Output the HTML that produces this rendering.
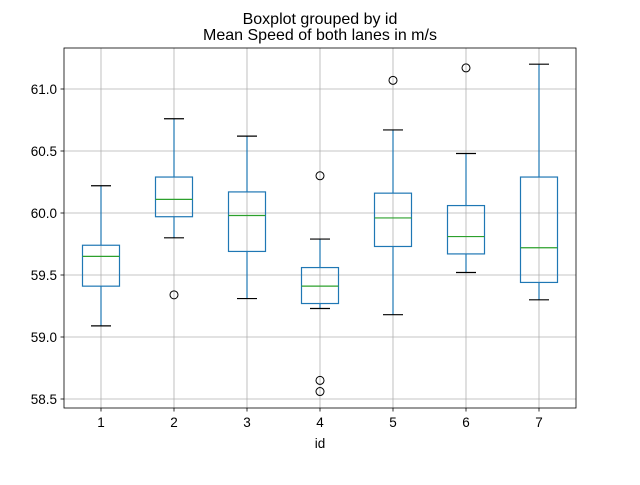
<!DOCTYPE html>
<html><head><meta charset="utf-8"><style>
body{margin:0;background:#fff;}
svg text{font-family:"Liberation Sans","DejaVu Sans",sans-serif;fill:#000;}
</style></head><body>
<svg id="chart" width="640" height="480" xmlns="http://www.w3.org/2000/svg">
<text x="320" y="24" font-size="16" text-anchor="middle">Boxplot grouped by id</text>
<text x="320" y="40" font-size="16" text-anchor="middle">Mean Speed of both lanes in m/s</text>
<g id="grid"></g><g id="marks"></g><g id="axes"></g>
<text x="320" y="448" font-size="13.5" text-anchor="middle">id</text>
</svg>
<script>
const categories=["1","2","3","4","5","6","7"];
const whiskerLow=[59.09,59.80,59.31,59.23,59.18,59.52,59.30];
const q1=[59.41,59.97,59.69,59.27,59.73,59.67,59.44];
const median=[59.65,60.11,59.98,59.41,59.96,59.81,59.72];
const q3=[59.74,60.29,60.17,59.56,60.16,60.06,60.29];
const whiskerHigh=[60.22,60.76,60.62,59.79,60.67,60.48,61.20];
const outliers=[[],[59.34],[],[60.30,58.65,58.56],[61.07],[61.17],[]];
const yTicks=[58.5,59.0,59.5,60.0,60.5,61.0];
const yTickLabels=["58.5","59.0","59.5","60.0","60.5","61.0"];

const L=64,R=576,T=48,B=408;
const y=v=>89+(61-v)*124;
const x=i=>101+i*73;
const NS="http://www.w3.org/2000/svg";
function mk(tag,attrs,parent,txt){const e=document.createElementNS(NS,tag);for(const k in attrs)e.setAttribute(k,attrs[k]);if(txt!==undefined)e.textContent=txt;document.getElementById(parent).appendChild(e);return e;}
const hw=18.5, cw=10;
yTicks.forEach((t,i)=>{
 const g=mk('line',{x1:L,x2:R,y1:y(t),y2:y(t),stroke:'#b0b0b0','stroke-width':0.8},'grid');
 
 
 const tk=mk('line',{x1:L-3.5,x2:L,y1:y(t),y2:y(t),stroke:'#000','stroke-width':0.8},'axes');
 
 
 const lb=mk('text',{x:L-7,y:y(t)+5,'font-size':13.5,'text-anchor':'end'},'axes',yTickLabels[i]);
 
 
});
categories.forEach((c,i)=>{
 const cx=x(i);
 const g=mk('line',{x1:cx,x2:cx,y1:T,y2:B,stroke:'#b0b0b0','stroke-width':0.8},'grid');
 
 
 const tk=mk('line',{x1:cx,x2:cx,y1:B,y2:B+3.5,stroke:'#000','stroke-width':0.8},'axes');
 
 
 const lb=mk('text',{x:cx,y:B+19,'font-size':13.5,'text-anchor':'middle'},'axes',c);
 
 
 const st={stroke:'#1f77b4','stroke-width':1.2,fill:'none'};
 const box=mk('rect',Object.assign({x:cx-hw,y:y(q3[i]),width:2*hw,height:y(q1[i])-y(q3[i])},st),'marks');
 
 
 const w1=mk('line',Object.assign({x1:cx,x2:cx,y1:y(q1[i]),y2:y(whiskerLow[i])},st),'marks');
 
 
 const w2=mk('line',Object.assign({x1:cx,x2:cx,y1:y(q3[i]),y2:y(whiskerHigh[i])},st),'marks');
 
 
 const c1=mk('line',{x1:cx-cw,x2:cx+cw,y1:y(whiskerLow[i]),y2:y(whiskerLow[i]),stroke:'#000','stroke-width':1.2},'marks');
 
 
 const c2=mk('line',{x1:cx-cw,x2:cx+cw,y1:y(whiskerHigh[i]),y2:y(whiskerHigh[i]),stroke:'#000','stroke-width':1.2},'marks');
 
 
 const m=mk('line',{x1:cx-hw,x2:cx+hw,y1:y(median[i]),y2:y(median[i]),stroke:'#2ca02c','stroke-width':1.2},'marks');
 
 
 outliers[i].forEach(o=>{
  const p=mk('circle',{cx:cx,cy:y(o),r:4,fill:'none',stroke:'#000','stroke-width':1},'marks');
  
  
 });
});
const fr=mk('rect',{x:L,y:T,width:R-L,height:B-T,fill:'none',stroke:'#000','stroke-width':0.8},'axes');


</script>
</body></html>
